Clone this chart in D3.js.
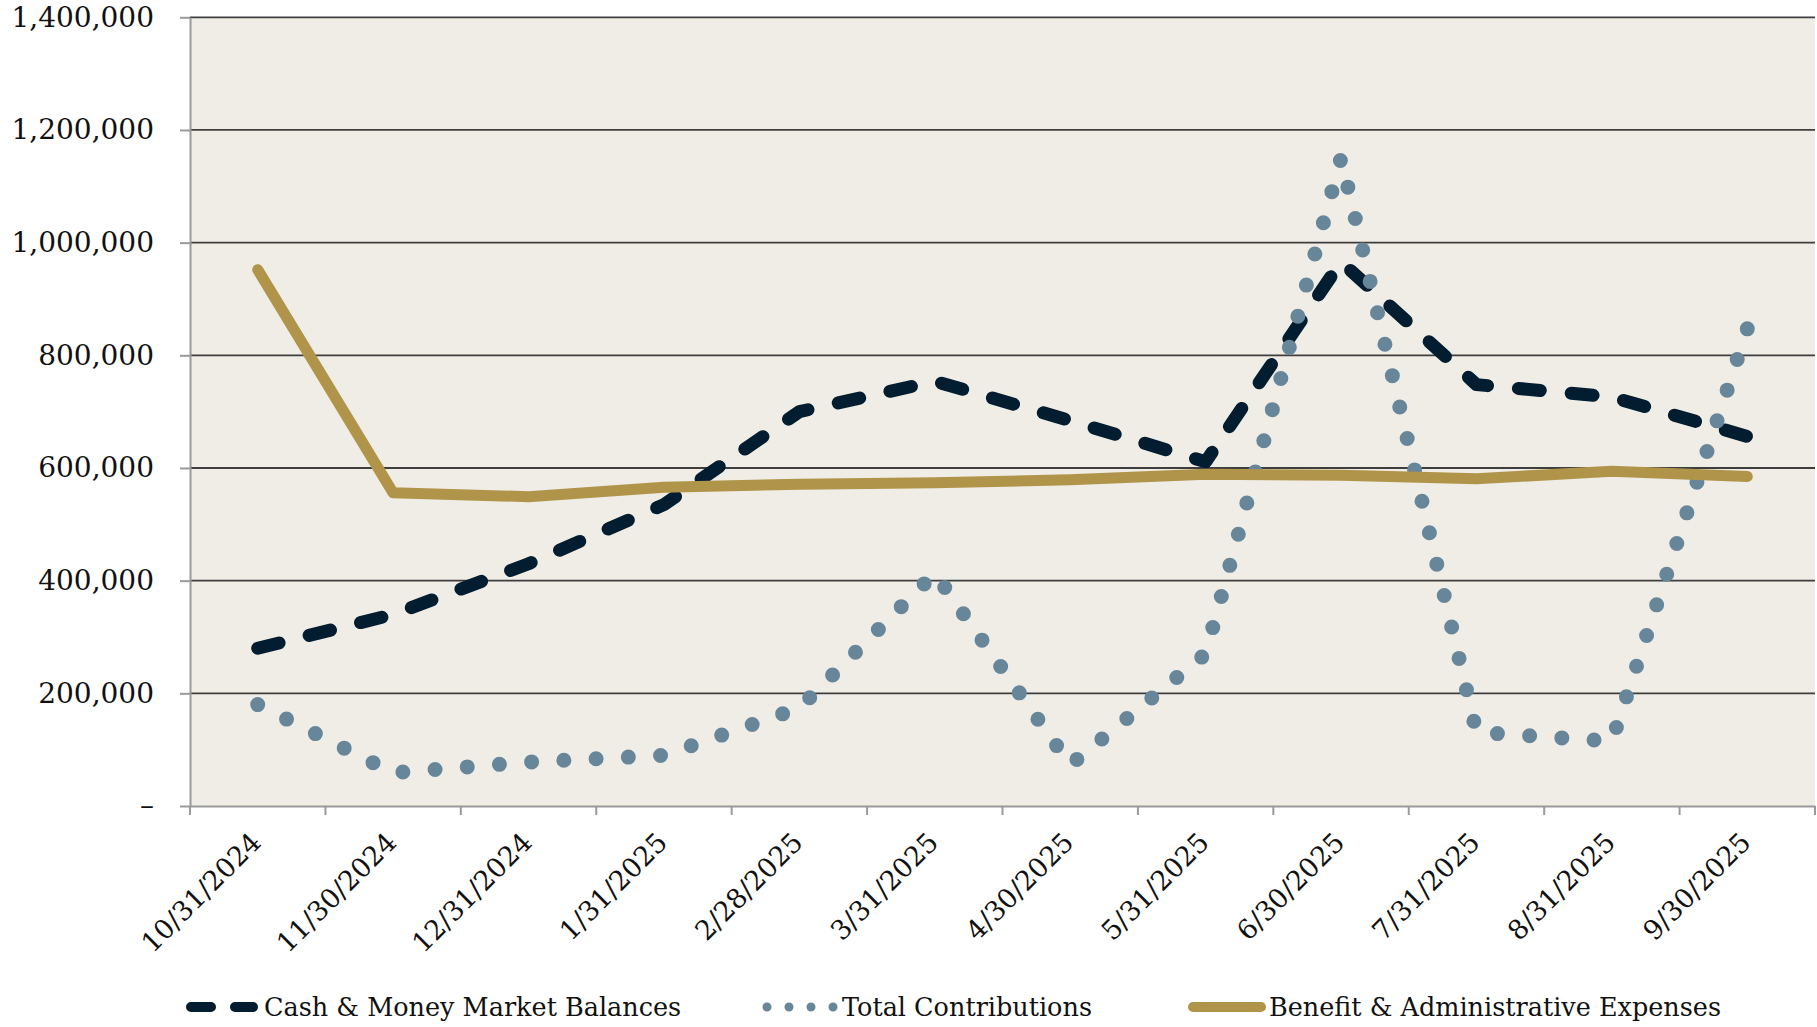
<!DOCTYPE html>
<html><head><meta charset="utf-8">
<script src="https://cdn.jsdelivr.net/npm/d3@7"></script>
<style>body{margin:0;background:#fff;} svg{display:block;}</style>
</head><body><svg id="c" width="1817" height="1027"></svg>
<script>
const categories = ["10/31/2024","11/30/2024","12/31/2024","1/31/2025","2/28/2025","3/31/2025","4/30/2025","5/31/2025","6/30/2025","7/31/2025","8/31/2025","9/30/2025"];
const cashBalances = [280000,340000,430000,535000,700000,754000,684000,611000,966000,748000,726000,656000];
const totalContributions = [180000,59000,78000,90000,174000,413000,73000,270000,1150000,131000,115000,847000];
const benefitExpenses = [952000,556000,549000,566000,571000,574000,579000,589000,587000,581000,594000,585000];
const yTicks = [0,200000,400000,600000,800000,1000000,1200000,1400000];
const seriesNames = ["Cash & Money Market Balances","Total Contributions","Benefit & Administrative Expenses"];

const svg = d3.select("#c");
const L = 190, R = 1815, T = 17.3, B = 806;
const FONT = "'DejaVu Serif', serif";

const x = d3.scaleBand().domain(categories).range([L, R]).paddingInner(0).paddingOuter(0);
const y = d3.scaleLinear().domain([0, 1400000]).range([B, T]);
const cx = d => x(d) + x.bandwidth() / 2;

// plot background
svg.append("rect").attr("x", L).attr("y", T).attr("width", R - L).attr("height", B - T).attr("fill", "#f0ede6");

// gridlines
svg.append("g").selectAll("line").data(yTicks.filter(v => v > 0)).join("line")
  .attr("x1", L).attr("x2", R).attr("y1", d => y(d)).attr("y2", d => y(d))
  .attr("stroke", "#3e3e3e").attr("stroke-width", 1.8);

// y axis
const yAxis = svg.append("g").attr("transform", `translate(${L},0)`)
  .call(d3.axisLeft(y).tickValues(yTicks).tickSize(10).tickSizeOuter(0).tickPadding(26)
    .tickFormat(d => d === 0 ? "–" : d3.format(",")(d)));
yAxis.select(".domain").attr("stroke", "#9a9a9a").attr("stroke-width", 2);
yAxis.selectAll(".tick line").attr("stroke", "#9a9a9a").attr("stroke-width", 2);
yAxis.selectAll(".tick text").attr("font-family", FONT).attr("font-size", 28).attr("fill", "#111");

// x axis
const xAxis = svg.append("g").attr("transform", `translate(0,${B})`)
  .call(d3.axisBottom(x).tickSize(0).tickSizeOuter(0));
xAxis.select(".domain").attr("stroke", "#9a9a9a").attr("stroke-width", 2);
xAxis.selectAll(".tick text")
  .attr("font-family", FONT).attr("font-size", 27).attr("fill", "#111")
  .attr("text-anchor", "end").attr("x", 5).attr("y", 38).attr("dy", 0)
  .attr("transform", "rotate(-45,5,38)");
// boundary ticks
svg.append("g").selectAll("line").data(categories.map(c => x(c)).concat([R])).join("line")
  .attr("x1", d => d).attr("x2", d => d).attr("y1", B).attr("y2", B + 9)
  .attr("stroke", "#9a9a9a").attr("stroke-width", 2);

const line = d3.line().x((d, i) => cx(categories[i])).y(d => y(d));

svg.append("path").datum(cashBalances).attr("d", line)
  .attr("fill", "none").attr("stroke", "#011d2f").attr("stroke-width", 13)
  .attr("stroke-dasharray", "22 31").attr("stroke-linecap", "round").attr("stroke-linejoin", "round");

const contribPath = svg.append("path").datum(totalContributions).attr("d", line)
  .attr("fill", "none").attr("stroke", "#68869a").attr("stroke-width", 15)
  .attr("stroke-linecap", "round").attr("stroke-linejoin", "round");
const clen = contribPath.node().getTotalLength();
const gap = clen / Math.round(clen / 32.3);
contribPath.attr("stroke-dasharray", `0 ${gap}`);

svg.append("path").datum(benefitExpenses).attr("d", line)
  .attr("fill", "none").attr("stroke", "#b09449").attr("stroke-width", 11)
  .attr("stroke-linecap", "round").attr("stroke-linejoin", "round");

// legend
const LY = 1007;
const lg = svg.append("g");
lg.append("line").attr("x1", 191).attr("x2", 253).attr("y1", LY).attr("y2", LY)
  .attr("stroke", "#011d2f").attr("stroke-width", 10).attr("stroke-dasharray", "20 24").attr("stroke-linecap", "round");
lg.append("line").attr("x1", 767).attr("x2", 833.5).attr("y1", LY).attr("y2", LY)
  .attr("stroke", "#68869a").attr("stroke-width", 9).attr("stroke-dasharray", "0 22").attr("stroke-linecap", "round");
lg.append("line").attr("x1", 1193).attr("x2", 1261).attr("y1", LY).attr("y2", LY)
  .attr("stroke", "#b09449").attr("stroke-width", 10).attr("stroke-linecap", "round");
const lx = [264, 842, 1269];
lg.selectAll("text").data(seriesNames).join("text")
  .attr("x", (d, i) => lx[i]).attr("y", LY).attr("dy", "0.35em")
  .attr("font-family", FONT).attr("font-size", 25.5).attr("fill", "#111")
  .text(d => d);
</script></body></html>
